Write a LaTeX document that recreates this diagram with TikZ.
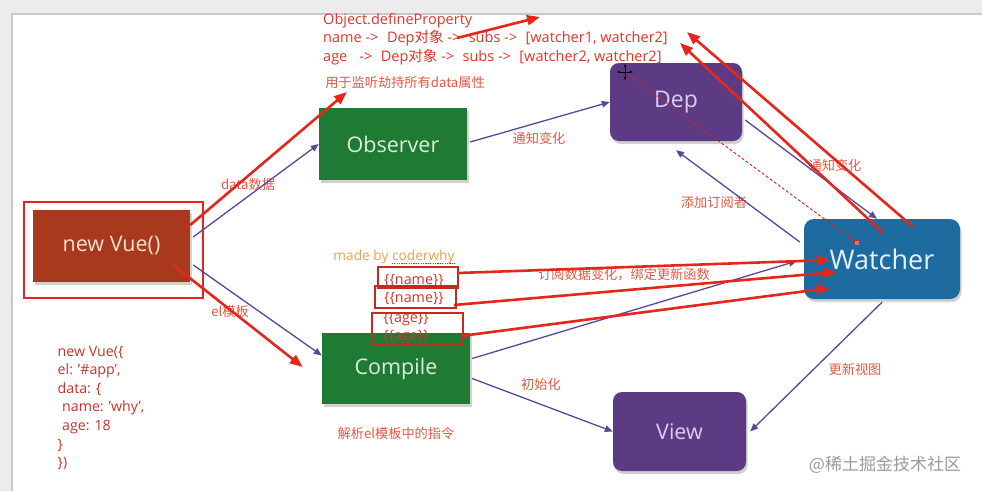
\documentclass[tikz,border=0pt]{standalone}
\usepackage{fontspec}
\setmainfont{Open Sans}
\newfontfamily\cjk{Noto Sans CJK SC}
\usetikzlibrary{arrows.meta,shadows}
\definecolor{bggray}{HTML}{ECECEC}
\definecolor{edgegray}{HTML}{C8C8C8}
\definecolor{redarrow}{HTML}{E5261B}
\definecolor{lblred}{HTML}{E05A45}
\definecolor{topred}{HTML}{E0352A}
\definecolor{codecol}{HTML}{C8342C}
\definecolor{tmplcol}{HTML}{D0362A}
\definecolor{tmplframe}{HTML}{C42A20}
\definecolor{orangetxt}{HTML}{F0A050}
\definecolor{purpleline}{HTML}{58479A}
\definecolor{obsgreen}{HTML}{1F7A34}
\definecolor{deppurple}{HTML}{5D3A84}
\definecolor{watblue}{HTML}{1E6BA0}
\definecolor{vuebrown}{HTML}{A8391D}
\definecolor{greentext}{HTML}{DCEED8}
\definecolor{purpletext}{HTML}{DCCCF2}
\definecolor{bluetext}{HTML}{E4F0FA}
\definecolor{browntext}{HTML}{F4DED2}
\definecolor{wmgray}{HTML}{9A9A9A}
\newcommand{\arw}{->\hspace{8.5pt}}
\begin{document}
\begin{tikzpicture}[x=1pt,y=-1pt,
  shadowed/.style={drop shadow={shadow xshift=1.5pt,shadow yshift=-3pt,opacity=0.18,fill=black}},
  boxnode/.style={inner sep=0pt,shadowed,font=\fontsize{21.5}{24}\selectfont},
  greenbox/.style={boxnode,fill=obsgreen,text=greentext},
  purplebox/.style={boxnode,fill=deppurple,text=purpletext,rounded corners=9pt},
  parrow/.style={draw=purpleline,line width=1.3pt,-{Triangle[length=8pt,width=6.5pt]}},
  rarrow/.style={draw=redarrow,line width=2.6pt,-{Triangle[length=13pt,width=10pt]}},
  lbl/.style={text=lblred,font=\cjk\fontsize{13.2}{15}\selectfont,inner sep=0pt},
  toptxt/.style={text=topred,font=\fontsize{14.5}{16}\selectfont,inner sep=0pt,anchor=base west},
  codetxt/.style={text=codecol,font=\fontsize{14.2}{15}\selectfont,inner sep=0pt,anchor=base west},
  tmpltxt/.style={text=tmplcol,font=\fontsize{14.3}{15}\selectfont,inner sep=0pt},
  tmplbox/.style={draw=tmplframe,line width=1.8pt,inner sep=0pt}
]
\useasboundingbox (0,0) rectangle (982,491);
% background slide
\fill[bggray] (0,0) rectangle (982,491);
\fill[white] (12,14) rectangle (982,491);
\draw[edgegray,line width=1.2pt] (12,491) -- (12,14) -- (982,14);

% boxes
\node[boxnode,fill=vuebrown,text=browntext,minimum width=157pt,minimum height=72pt] (vue) at (111.5,246) {new Vue()};
\node[draw=redarrow,line width=1.6pt,minimum width=179pt,minimum height=96pt,inner sep=0pt] (vueframe) at (113.5,250) {};
\node[greenbox,minimum width=148pt,minimum height=72pt] (obs) at (393,144) {Observer};
\node[greenbox,minimum width=148pt,minimum height=71pt] (comp) at (396,368.5) {Compile};
\node[purplebox,minimum width=132pt,minimum height=78pt,font=\fontsize{23}{26}\selectfont] (dep) at (676,102) {Dep};
\node[boxnode,fill=watblue,text=bluetext,rounded corners=10pt,minimum width=156pt,minimum height=80pt,font=\fontsize{27}{30}\selectfont] (wat) at (882,259) {Watcher};
\node[purplebox,minimum width=133pt,minimum height=79pt] (view) at (679.5,431.5) {View};

% top texts
\node[toptxt] (t1) at (323,24) {Object.defineProperty};
\node[toptxt] (t2) at (323,42) {name \arw Dep{\cjk 对象} \arw subs \arw [watcher1, watcher2]};
\node[toptxt] (t3) at (323,61) {age\hspace{12pt}\arw Dep{\cjk 对象} \arw subs \arw [watcher2, watcher2]};

% labels
\node[lbl] (lobsnote) at (405,83) {用于监听劫持所有data属性};
\node[lbl] (ldata) at (248,184) {data数据};
\node[lbl] (lel) at (230,311) {el模板};
\node[lbl] (lnotify1) at (539,138) {通知变化};
\node[lbl] (lnotify2) at (835,165) {通知变化};
\node[lbl] (ladd) at (714,202) {添加订阅者};
\node[lbl] (lsub) at (624,275) {订阅数据变化，绑定更新函数};
\node[lbl] (linit) at (541,384) {初始化};
\node[lbl] (lupdate) at (855,369) {更新视图};
\node[lbl] (lparse) at (396,433) {解析el模板中的指令};

% code
\node[codetxt] (c1) at (57.5,356) {new Vue(\{};
\node[codetxt] (c2) at (57.5,374.6) {el: '\#app',};
\node[codetxt] (c3) at (57.5,393.2) {data: \{};
\node[codetxt] (c4) at (62,411.8) {name: 'why',};
\node[codetxt] (c5) at (62,430.4) {age: 18};
\node[codetxt] (c6) at (57.5,449) {\}};
\node[codetxt] (c7) at (57.5,467.6) {\})};

% made by
\node[text=orangetxt,font=\fontsize{13.7}{15}\selectfont,inner sep=0pt] (made) at (394,257) {made by coderwhy};
\draw[redarrow,line width=1pt,dash pattern=on 1.2pt off 1.2pt] ([xshift=-63pt,yshift=-6.5pt]made.east) -- ([yshift=-6.5pt]made.east);

% template texts
\node[tmpltxt] (n1) at (414,281) {\{\{name\}\}};
\node[tmpltxt] (n2) at (414,299) {\{\{name\}\}};
\node[tmpltxt] (a1) at (406,319) {\{\{age\}\}};
\node[tmpltxt] (a2) at (406,337) {\{\{age\}\}};
\node[tmplbox,minimum width=80pt,minimum height=21pt] (tb1) at (418,277.5) {};
\node[tmplbox,minimum width=81pt,minimum height=22pt] (tb2) at (415.5,297) {};
\node[tmplbox,minimum width=91pt,minimum height=31pt] (tb3) at (417.5,328.5) {};

% purple connectors
\draw[parrow] ([xshift=3pt,yshift=9pt]vue.east) -- (obs.west);
\draw[parrow] ([xshift=3pt,yshift=-19pt]vue.east) -- ([yshift=13pt]comp.west);
\draw[parrow] ([xshift=3pt,yshift=2pt]obs.east) -- (dep.west);
\draw[parrow] ([xshift=3pt,yshift=-18pt]dep.east) -- ([xshift=-5pt]wat.north);
\draw[parrow] ([xshift=-4pt,yshift=17pt]wat.west) -- ([yshift=-9pt]dep.south);
\draw[parrow] ([xshift=2pt,yshift=10pt]comp.east) -- ([xshift=-7pt,yshift=-2pt]wat.west);
\draw[parrow] ([xshift=2pt,yshift=-10pt]comp.east) -- (view.west);
\draw[parrow] ([yshift=-3pt]wat.south) -- ([xshift=4pt]view.east);

% dashed line with cursor
\coordinate (cursor) at (625,72);
\node[draw=tmplframe,fill=deppurple!60,line width=0.8pt,minimum size=5pt,inner sep=0pt] (sq) at (857,243) {};
\draw[tmplframe,line width=0.9pt,dash pattern=on 3pt off 2pt] (cursor) -- (sq);
\draw[black,line width=0.9pt,{Stealth[length=3.5pt]}-{Stealth[length=3.5pt]}] ([xshift=-8pt]cursor) -- ([xshift=8pt]cursor);
\draw[black,line width=0.9pt,{Stealth[length=3.5pt]}-{Stealth[length=3.5pt]}] ([yshift=-8pt]cursor) -- ([yshift=8pt]cursor);

% red connectors
\coordinate (r1end) at (347,92);
\coordinate (r3start) at (457,38);
\coordinate (r3end) at (540,17);
\coordinate (r4end) at (687,32);
\coordinate (r5end) at (680,43);
\draw[rarrow] ([yshift=21pt]vue.east) -- (r1end);
\draw[rarrow] ([xshift=-17pt,yshift=-19pt]vue.east) -- ([xshift=-19pt,yshift=1.5pt]comp.west);
\draw[rarrow] (r3start) -- (r3end);
\draw[rarrow] ([xshift=31pt,yshift=-8pt]wat.north) -- (r4end);
\draw[rarrow] ([xshift=1pt,yshift=-14pt]wat.north) -- (r5end);
\draw[rarrow] ([xshift=-1pt,yshift=4.5pt]tb1.east) -- ([xshift=26pt,yshift=-1pt]wat.west);
\draw[rarrow] ([xshift=-3pt,yshift=-8pt]tb2.east) -- ([xshift=33pt,yshift=-13pt]wat.west);
\draw[rarrow] ([xshift=-3pt,yshift=-7.5pt]tb3.east) -- ([xshift=26pt,yshift=-29pt]wat.west);

% watermark
\node[text=wmgray,font=\cjk\fontsize{17}{20}\selectfont,inner sep=0pt] (wm) at (885,465) {@稀土掘金技术社区};
\end{tikzpicture}
\end{document}
